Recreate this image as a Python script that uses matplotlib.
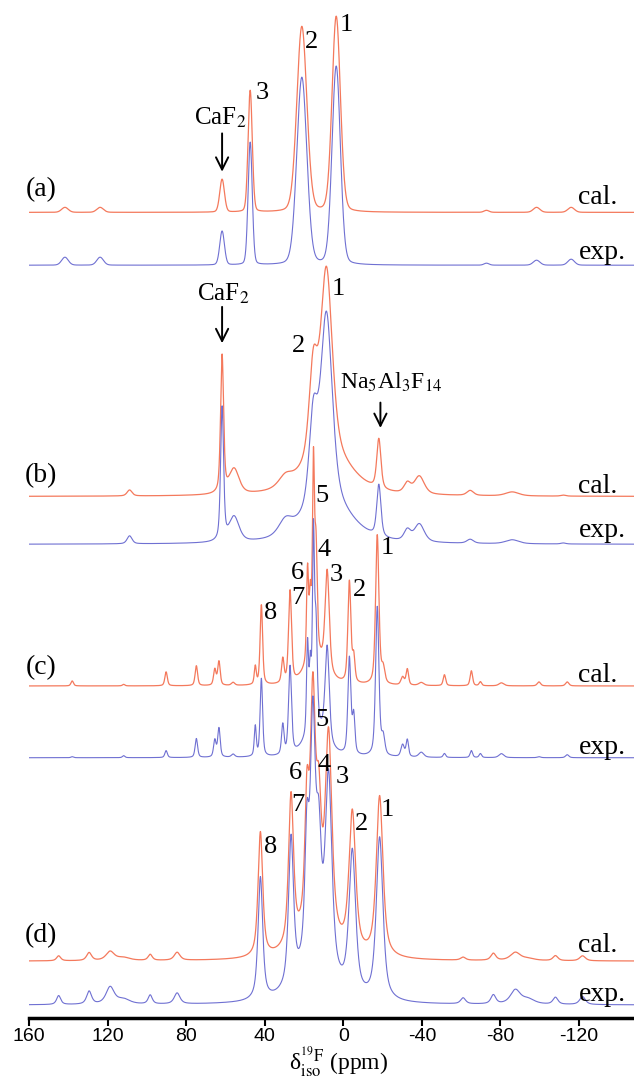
import matplotlib
matplotlib.use("Agg")
import matplotlib.pyplot as plt
import numpy as np

plt.rcParams['font.family'] = ['Liberation Serif', 'DejaVu Serif']
plt.rcParams['mathtext.fontset'] = 'stix'

cal_color = '#f4795c'
exp_color = '#6f70d2'

# peak tables: position (ppm), width (ppm), heights (px)
pos_a = [141.7, 123.8, 61.7, 47.4, 21.1, 3.6, -72.9, -98.4, -116.0]
wid_a = [4.0, 4.0, 2.8, 2.5, 6.0, 5.0, 3.0, 4.0, 4.0]
cal_a = [5, 5, 33, 122, 186, 196, 2, 5, 5]
exp_a = [8, 8, 34, 123, 188, 199, 2, 5, 6]

pos_b = [108.8, 61.7, 55.6, 29.5, 15.3, 8.6, 8.0, -18.1, -32.6, -38.7, -64.6, -86.0, -112.0]
wid_b = [3.0, 1.8, 6.0, 8.0, 5.0, 7.0, 28.0, 2.5, 4.0, 6.0, 4.0, 8.0, 3.0]
cal_b = [6, 138, 25, 10, 89, 185, 40, 50, 10, 18, 5, 4, 1]
exp_b = [8, 134, 25, 14, 87, 188, 40, 52, 11, 18, 4, 4, 1]

pos_c = [138.0, 111.8, 90.2, 74.8, 65.4, 63.3, 56.1, 44.8, 41.7, 30.8, 27.1, 18.2, 16.8,
         15.2, 13.9, 14.0, 8.2, -3.1, -5.3, -17.3, -20.3, -30.2, -32.6, -39.7, -51.5,
         -65.2, -69.8, -80.5, -99.6, -114.0]
wid_c = [1.5, 1.5, 1.5, 1.5, 1.5, 1.5, 2.0, 1.2, 1.5, 1.5, 1.8, 1.2, 1.2,
         1.2, 1.5, 12.0, 2.5, 1.8, 1.5, 2.0, 2.0, 2.0, 1.5, 3.0, 1.5,
         1.5, 1.5, 3.0, 2.0, 2.0]
cal_c = [5, 1.5, 14, 20, 16, 24, 3, 18, 80, 24, 92, 92, 58,
         185, 105, 28, 100, 102, 25, 150, 15, 8, 16, 3, 11,
         15, 4, 3, 4, 4]
exp_c = [1, 2, 7, 19, 17, 29, 3, 30, 78, 30, 88, 88, 58,
         185, 95, 30, 95, 97, 38, 150, 18, 12, 17, 5, 4,
         7, 4, 4, 1, 3]

pos_d = [144.9, 129.4, 118.7, 112.0, 98.3, 84.6, 42.2, 26.6, 18.5, 15.5, 12.5, 7.5,
         -4.6, -18.5, 15.0, -61.0, -76.4, -87.6, -94.0, -108.0, -121.8]
wid_d = [2.5, 3.0, 5.0, 8.0, 2.5, 3.5, 2.8, 3.0, 2.5, 3.0, 3.0, 4.0,
         4.0, 4.0, 20.0, 3.0, 3.0, 6.0, 8.0, 3.0, 3.5]
cal_d = [5, 8, 9, 3, 6, 8, 125, 150, 120, 220, 110, 200,
         140, 161, 28, 3, 7, 8, 2, 5, 5]
exp_d = [9, 13, 17, 5, 9, 11, 123, 147, 120, 230, 110, 195,
         143, 163, 38, 6, 9, 14, 5, 7, 8]

# lorentzian fraction of each panel's lineshape
eta = {'a': 0.15, 'b': 0.5, 'c': 0.5, 'd': 0.7}
# baselines (px above the axis line)
base_cal = {'a': 808, 'b': 523, 'c': 333, 'd': 57}
base_exp = {'a': 755, 'b': 475, 'c': 261, 'd': 13}

panels = {
    'a': (pos_a, wid_a, cal_a, exp_a),
    'b': (pos_b, wid_b, cal_b, exp_b),
    'c': (pos_c, wid_c, cal_c, exp_c),
    'd': (pos_d, wid_d, cal_d, exp_d),
}

# peak labels: (text, ppm, height)
labels_a = [('1', -1.5, 996), ('2', 16.3, 979), ('3', 41.3, 928)]
labels_b = [('2', 22.9, 674), ('1', 2.5, 731)]
labels_c = [('5', 10.7, 524), ('8', 37.2, 406), ('7', 23.1, 421), ('6', 23.1, 446),
            ('4', 9.7, 469), ('3', 3.6, 444), ('2', -8.2, 429), ('1', -22.4, 471)]
labels_d = [('5', 10.7, 299), ('6', 24.5, 246), ('4', 9.7, 254), ('3', 0.5, 242),
            ('7', 23.1, 214), ('1', -22.4, 209), ('2', -9.4, 195), ('8', 37.2, 172)]
panel_label_y = {'a': 831, 'b': 544, 'c': 351, 'd': 83}
cal_text_y = {'a': 823, 'b': 533, 'c': 344, 'd': 73}
exp_text_y = {'a': 768, 'b': 489, 'c': 271, 'd': 24}


def spectrum(x, pos, wid, hgt, e):
    y = np.zeros_like(x)
    for p, w, h in zip(pos, wid, hgt):
        d = (x - p) / w
        g = np.exp(-4 * np.log(2) * d ** 2)
        l = 1.0 / (1 + 4 * d ** 2)
        y += h * ((1 - e) * g + e * l)
    return y


fig = plt.figure(figsize=(6.34, 10.81), dpi=100)
ax = fig.add_axes([29 / 634, 63 / 1081, 605 / 634, 1018 / 1081])

x = np.linspace(160, -148, 5000)
for key, (pos, wid, cal, exp) in panels.items():
    ax.plot(x, base_cal[key] + spectrum(x, pos, wid, cal, eta[key]), color=cal_color, lw=0.9)
    ax.plot(x, base_exp[key] + spectrum(x, pos, wid, exp, eta[key]), color=exp_color, lw=0.8)
    ax.text(153.9, panel_label_y[key], '(%s)' % key, fontsize=20, ha='center', va='center')
    ax.text(-119.7, cal_text_y[key], 'cal.', fontsize=20, ha='left', va='center')
    ax.text(-119.7, exp_text_y[key], 'exp.', fontsize=20, ha='left', va='center')

for lab in [labels_a, labels_b, labels_c, labels_d]:
    for t, px, py in lab:
        ax.text(px, py, t, fontsize=19, ha='center', va='center')

# compound markers
ax.text(62.7, 903, r'CaF$_2$', fontsize=18, ha='center', va='center')
ax.annotate('', xy=(61.7, 846), xytext=(61.7, 890),
            arrowprops=dict(arrowstyle='->', lw=1.4, color='k', mutation_scale=22))
ax.text(61.1, 726, r'CaF$_2$', fontsize=18, ha='center', va='center')
ax.annotate('', xy=(61.7, 674), xytext=(61.7, 716),
            arrowprops=dict(arrowstyle='->', lw=1.4, color='k', mutation_scale=22))
ax.text(-24.5, 638, r'Na$_5$Al$_3$F$_{14}$', fontsize=17, ha='center', va='center')
ax.annotate('', xy=(-18.9, 589), xytext=(-18.9, 620),
            arrowprops=dict(arrowstyle='->', lw=1.4, color='k', mutation_scale=22))

ax.set_xlim(160, -148)
ax.set_ylim(0, 1021)
for s in ['top', 'right', 'left']:
    ax.spines[s].set_visible(False)
ax.spines['bottom'].set_linewidth(2.5)
ax.set_yticks([])
ticks = [160, 120, 80, 40, 0, -40, -80, -120]
ax.set_xticks(ticks)
ax.set_xticklabels([str(t) for t in ticks], family='Liberation Sans', fontsize=14)
ax.tick_params(axis='x', direction='out', length=6, width=1.5, pad=1)

fig.text(339 / 634, 1 / 1081, 'δ$_{\\rm iso}^{^{19}\\rm F}$ (ppm)', fontsize=17,
         ha='center', va='bottom')

fig.savefig('out.png', dpi=100)
